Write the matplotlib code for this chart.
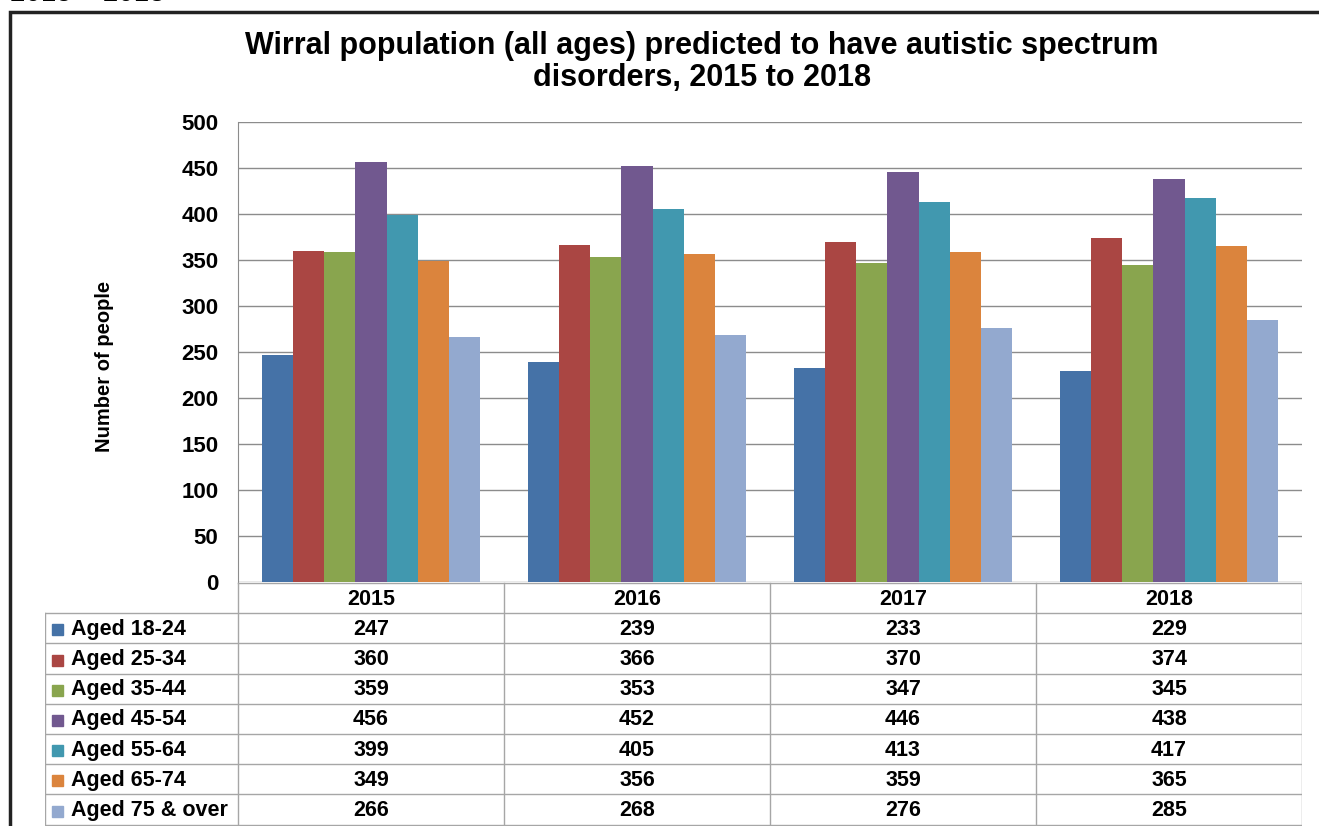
import matplotlib.pyplot as plt
import matplotlib.patches as patches
import numpy as np

plt.rcParams['font.family'] = ['Liberation Sans', 'DejaVu Sans']
plt.rcParams['font.weight'] = 'bold'

years = ['2015', '2016', '2017', '2018']
age_groups = ['Aged 18-24', 'Aged 25-34', 'Aged 35-44', 'Aged 45-54',
              'Aged 55-64', 'Aged 65-74', 'Aged 75 & over']
aged_18_24 = [247, 239, 233, 229]
aged_25_34 = [360, 366, 370, 374]
aged_35_44 = [359, 353, 347, 345]
aged_45_54 = [456, 452, 446, 438]
aged_55_64 = [399, 405, 413, 417]
aged_65_74 = [349, 356, 359, 365]
aged_75_over = [266, 268, 276, 285]
series = [aged_18_24, aged_25_34, aged_35_44, aged_45_54,
          aged_55_64, aged_65_74, aged_75_over]
colors = ['#4572A7', '#AA4643', '#89A54E', '#71588F', '#4198AF', '#DB843D', '#93A9CF']

W, H = 1319, 826
fig = plt.figure(figsize=(W / 100, H / 100), dpi=100)

def box(x0, y0, x1, y1):
    # pixel box (top-left origin) -> figure fraction rect
    return [x0 / W, 1 - y1 / H, (x1 - x0) / W, (y1 - y0) / H]

# outer chart frame (runs off the right and bottom of the crop)
fig.patches.append(patches.Rectangle((9.5 / W, -0.05), 1.1, 1 - 12.5 / H + 0.05,
                                     transform=fig.transFigure, fill=False,
                                     edgecolor='#222222', linewidth=2.5))
# caption above the chart, cut off by the top edge as in the source
fig.text(10 / W, 1 + 6 / H, '2015 \u2013 2018', fontsize=20, fontweight='normal',
         va='center', ha='left')

fig.text(702 / W, 1 - 62 / H, 'Wirral population (all ages) predicted to have autistic spectrum\n'
         'disorders, 2015 to 2018', ha='center', va='center', fontsize=22,
         fontweight='bold', linespacing=1.13)

# bar chart
ax = fig.add_axes(box(238, 122, 1302, 582))
n = len(series)
bw = 0.117
x = np.arange(len(years))
for i, (vals, c) in enumerate(zip(series, colors)):
    ax.bar(x + (i - (n - 1) / 2) * bw, vals, width=bw, color=c, zorder=3)
ax.set_xlim(-0.5, len(years) - 0.5)
ax.set_ylim(0, 500)
ax.set_yticks(np.arange(0, 501, 50))
ax.yaxis.grid(True, color='#8c8c8c', linewidth=1, zorder=0)
ax.set_xticks([])
for s in ['top', 'right', 'bottom']:
    ax.spines[s].set_visible(False)
ax.spines['left'].set_color('#8c8c8c')
ax.tick_params(axis='y', length=0, labelsize=16, pad=14)
for lab in ax.get_yticklabels():
    lab.set_fontweight('bold')
fig.text(105 / W, 1 - 366 / H, 'Number of people', rotation=90, ha='center',
         va='center', fontsize=14.5, fontweight='bold')

# data table below the chart
tab = fig.add_axes(box(45, 582, 1302, 826))
tab.set_xlim(45, 1302)
tab.set_ylim(826, 582)
tab.axis('off')
col_edges = [45, 238, 504, 770, 1036, 1302]
row_h = 30.2
top = 583
lc = '#a6a6a6'
tab.plot([238, 1302], [top, top], color=lc, lw=1)
for xe in col_edges[1:]:
    tab.plot([xe, xe], [top, top + row_h * 8], color=lc, lw=1)
tab.plot([45, 45], [top + row_h, top + row_h * 8], color=lc, lw=1)
for r in range(1, 9):
    tab.plot([45, 1302], [top + r * row_h] * 2, color=lc, lw=1)
for j, yr in enumerate(years):
    cx = (col_edges[j + 1] + col_edges[j + 2]) / 2
    tab.text(cx, top + row_h / 2 + 1, yr, ha='center', va='center', fontsize=15.5, fontweight='bold')
for r, (name, vals, c) in enumerate(zip(age_groups, series, colors)):
    cy = top + (r + 1.5) * row_h + 1
    tab.add_patch(patches.Rectangle((52, cy - 5), 11, 11, color=c))
    tab.text(71, cy, name, ha='left', va='center', fontsize=15.5, fontweight='bold')
    for j, v in enumerate(vals):
        cx = (col_edges[j + 1] + col_edges[j + 2]) / 2
        tab.text(cx, cy, str(v), ha='center', va='center', fontsize=15.5, fontweight='bold')

fig.savefig('out.png', dpi=100)
